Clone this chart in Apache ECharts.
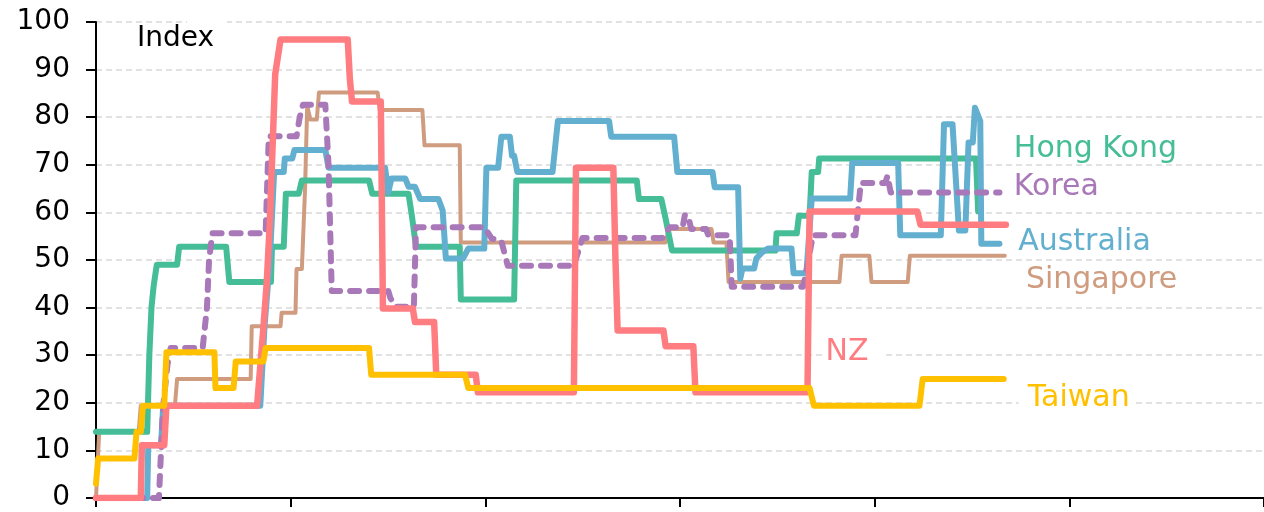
<!DOCTYPE html>
<html>
<head>
<meta charset="utf-8">
<script src="https://cdn.jsdelivr.net/npm/echarts@6/dist/echarts.min.js"></script>
<style>
  html, body { margin: 0; padding: 0; background: #fff; }
  #main { width: 1264px; height: 512px; }
</style>
</head>
<body>
<div id="main"></div>
<script>
// x = days since start of series, y = index value
const xStep = 182.5
const xMax = 1095
const yTicks = [0, 10, 20, 30, 40, 50, 60, 70, 80, 90, 100]

const singapore = [[0,0],[3,13.9],[40,13.9],[42,19.4],[74,19.4],[76,25],[145,25],[146,36.1],[173,36.1],[174,38.9],[187,38.9],[188,48.1],[193,48.1],[196,65],[198,82.4],[201,79.5],[207,79.5],[209,85.2],[264,85.2],[266,81.5],[306,81.5],[308,74.1],[341,74.1],[342,53.7],[534,53.7],[537,56.5],[577,56.5],[579,53.7],[591,53.7],[593,45.4],[697,45.4],[699,50.9],[725,50.9],[727,45.4],[761,45.4],[763,50.9],[852,50.9]]
const hongKong = [[0,13.9],[48,13.9],[50,30],[52,40],[54,44.5],[57,49],[76,49],[78,52.8],[122,52.8],[125,45.4],[164,45.4],[165,52.8],[176,52.8],[178,63.9],[190,63.9],[193,66.7],[256,66.7],[259,63.9],[293,63.9],[296,59.5],[300,52.8],[341,52.8],[342,41.7],[392,41.7],[394,66.7],[507,66.7],[509,62.8],[530,62.8],[534,58.7],[540,52],[637,52],[638,55.6],[657,55.6],[659,59.3],[669,59.3],[671,68.5],[677,68.5],[678,71.3],[825,71.3],[827,60.2]]
const australia = [[0,0],[48,0],[49,11.1],[61,11.1],[63,19.4],[154,19.4],[158,36],[163,50],[167,68.5],[176,68.5],[177,71.3],[184,71.3],[186,73.1],[215,73.1],[218,69.4],[271,69.4],[274,64.2],[277,67.1],[290,67.1],[293,65.4],[299,65.4],[304,62.8],[321,62.8],[325,60.4],[328,50.3],[344,50.3],[349,52.4],[364,52.4],[366,69.4],[377,69.4],[380,75.9],[388,75.9],[390,71.9],[392,71.9],[395,68.5],[428,68.5],[433,79.2],[481,79.2],[483,75.9],[542,75.9],[545,68.5],[578,68.5],[580,65.3],[602,65.3],[604,46.1],[606,48.2],[617,48.2],[619,50.3],[624,51.5],[630,52.4],[652,52.4],[654,47.2],[666,47.2],[671,62.9],[707,62.9],[709,70.4],[752,70.4],[754,55.2],[792,55.2],[795,78.5],[803,78.5],[809,56.2],[815,56.2],[818,74.7],[822,74.7],[824,82],[829,79.2],[830,53.4],[847,53.4]]
const korea = [[0,0],[59,0],[61,10],[63,19.4],[67,28],[70,31.5],[100,31.5],[104,40],[106,50],[109,55.6],[159,55.6],[162,76],[188,76],[191,80],[194,82.6],[215,82.6],[218,70],[221,43.5],[274,43.5],[276,42],[281,40.2],[298,40.2],[300,56.9],[364,56.9],[371,54.5],[380,54],[386,48.8],[448,48.8],[456,54.6],[531,54.6],[538,56.9],[550,56.9],[552,59.4],[555,59.4],[558,56.5],[572,56.5],[574,55.2],[594,55.2],[596,44.4],[663,44.4],[668,50],[672,55.2],[712,55.2],[717,66.2],[740,66.2],[742,67.7],[745,64.2],[847,64.2]]
const nz = [[0,0],[42,0],[43,11.1],[64,11.1],[66,19.4],[151,19.4],[157,36],[160,45],[163,58],[168,89],[173,96.3],[236,96.3],[238,88],[240,83.3],[267,83.3],[269,39.8],[297,39.8],[299,37],[317,37],[319,25.9],[356,25.9],[358,22.2],[448,22.2],[450,69.4],[485,69.4],[487,50],[489,35.2],[532,35.2],[534,31.9],[560,31.9],[562,22.2],[667,22.2],[669,60.2],[770,60.2],[773,57.4],[853,57.4]]
const taiwan = [[0,3],[2,8.3],[36,8.3],[38,13.9],[42,13.9],[44,19.4],[64,19.4],[66,30.6],[111,30.6],[112,23.1],[129,23.1],[131,28.7],[157,28.7],[159,31.5],[256,31.5],[258,25.9],[346,25.9],[349,23.1],[669,23.1],[673,19.4],[772,19.4],[775,25],[851,25]]

// label anchors: [day, value] of left edge / vertical centre of each name box
const names = ['Singapore', 'Hong Kong', 'Australia', 'Korea', 'NZ', 'Taiwan']
const colors = ['#CF9C80', '#45BD96', '#62AFCF', '#A878B8', '#FF7C80', '#FFC000']
const labelAt = [[869, 45.7], [853, 73.3], [857, 53.7], [853, 65.2], [682, 30.7], [865, 20.9]]

const font = 'DejaVu Sans'
const chart = echarts.init(document.getElementById('main'))

const lines = [singapore, hongKong, australia, korea, nz, taiwan]
const widths = [4, 6, 6, 6, 6.5, 6]
const pads = [[0, 4, 0, 3], [0, 4, 0, 8], [0, 4, 0, 8], [0, 4, 0, 8], [0, 17, 0, 2], [0, 4, 0, 9]]

const series = lines.map((d, i) => ({
    name: names[i],
    type: 'line',
    data: d,
    symbol: 'none',
    z: 2 + i,
    lineStyle: {
        color: colors[i],
        width: widths[i],
        type: names[i] == 'Korea' ? [9, 10] : 'solid',
        cap: 'round',
        join: 'round'
    },
    markPoint: {
        symbol: 'circle',
        symbolSize: 0,
        silent: true,
        label: {
            show: true,
            position: 'right',
            distance: 0,
            formatter: names[i],
            color: colors[i],
            fontFamily: font,
            fontSize: 30,
            backgroundColor: '#fff',
            padding: pads[i]
        },
        data: [{ coord: labelAt[i] }]
    }
}))

const option = {
    animation: false,
    backgroundColor: '#fff',
    grid: { left: 96, right: -6, top: 22, bottom: 11 },
    xAxis: {
        type: 'value',
        min: 0,
        max: xMax,
        interval: xStep,
        axisLine: { show: true, lineStyle: { color: '#000', width: 2 } },
        axisTick: { show: true, length: 9, lineStyle: { color: '#000', width: 2 } },
        axisLabel: { show: false },
        splitLine: { show: false }
    },
    yAxis: {
        type: 'value',
        min: yTicks[0],
        max: yTicks[yTicks.length - 1],
        interval: 10,
        axisLine: { show: true, lineStyle: { color: '#000', width: 2 } },
        axisTick: { show: true, length: 10, lineStyle: { color: '#000', width: 2 } },
        axisLabel: { color: '#000', fontFamily: font, fontSize: 28, margin: 26 },
        splitLine: { show: true, lineStyle: { color: '#D9D9D9', width: 1.5, type: [6, 4] } }
    },
    graphic: [
        { type: 'rect', left: 187, top: 19, shape: { width: 40, height: 6 }, style: { fill: '#fff' }, z: 1 },
        { type: 'text', left: 137, top: 25, style: { text: 'Index', font: '28px "DejaVu Sans"', fill: '#000' } }
    ],
    series: series
}
chart.setOption(option)
</script>
</body>
</html>
